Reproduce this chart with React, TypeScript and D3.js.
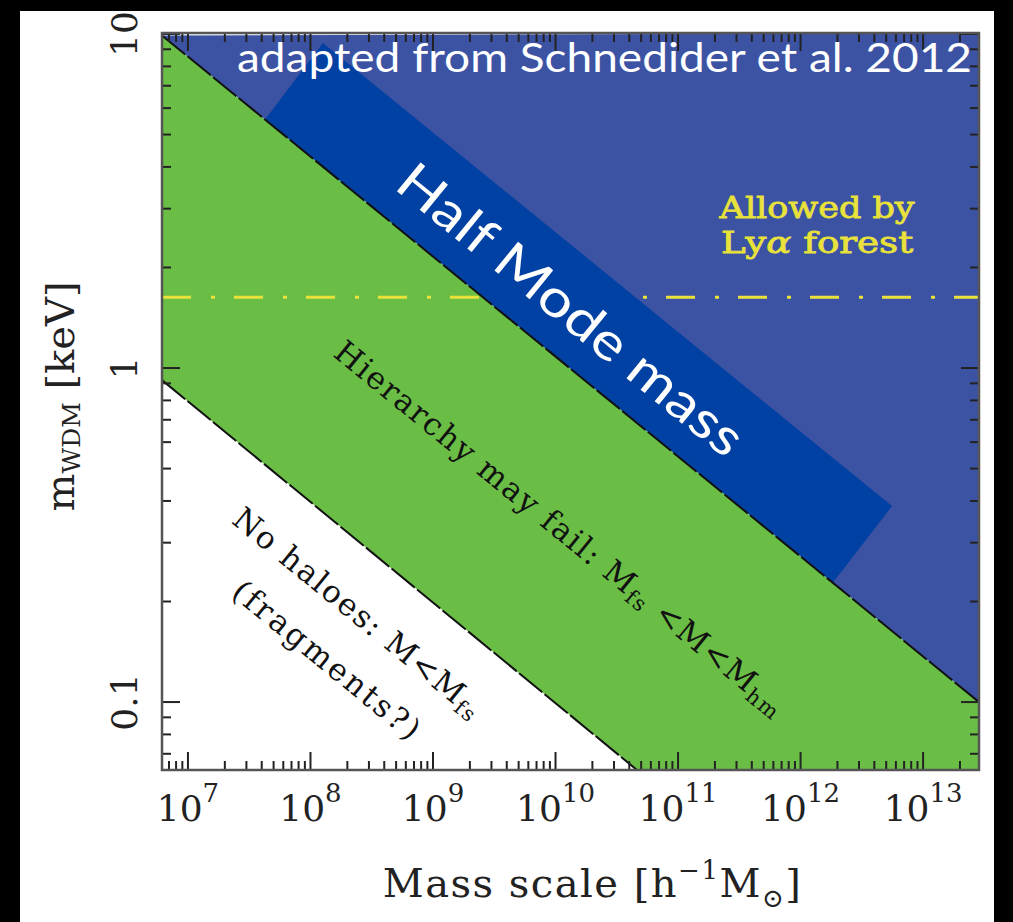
import React from 'react';
import * as d3 from 'd3';

// ---------- data ----------
const massDomain = [6.14e6, 2.86e13];          // h^-1 Msun
const mwdmDomain = [0.0626, 10.07];             // keV
const xMajorTicks = [1e7, 1e8, 1e9, 1e10, 1e11, 1e12, 1e13];
const xTickExponents = ['7', '8', '9', '10', '11', '12', '13'];
const yMajorTicks = [0.1, 1, 10];
const yTickLabels = ['0.1', '1', '10'];
// boundary lines (two points each, on the plot edges)
const freeStreamingLine = [
  { M: 6.14e6, m: 0.92 },
  { M: 4.62e10, m: 0.0626 },
];
const halfModeLine = [
  { M: 6.14e6, m: 9.9 },
  { M: 2.86e13, m: 0.1 },
];
// "Half Mode mass" highlight band corners
const halfModeBand = [
  { M: 4.26e7, m: 5.55 },
  { M: 1.265e8, m: 9.4 },
  { M: 5.58e12, m: 0.386 },
  { M: 1.84e12, m: 0.228 },
];
const lyaForestLimit = 1.63; // keV

// annotation anchors (data coordinates)
const halfModeLabelPos = { M: 1.365e10, m: 1.512 };
const hierarchyLabelPos = { M: 1.71e8, m: 1.156 };
const noHaloLabelPos = { M: 2.535e7, m: 0.366 };
const fragmentsLabelPos = { M: 2.51e7, m: 0.222 };
const lyaLabelPos = { M: 1.365e12, m1: 2.81, m2: 2.21 };

const W = 1013;
const H = 922;
const plot = { left: 162, right: 979, top: 33, bottom: 770 };

const BLUE = '#3c53a4';
const BAND = '#0041a3';
const GREEN = '#6abd45';
const YELLOW = '#e9e23a';
const SERIF = "'DejaVu Serif', serif";

export default function App() {
  const x = d3.scaleLog().domain(massDomain).range([plot.left, plot.right]);
  const y = d3.scaleLog().domain(mwdmDomain).range([plot.bottom, plot.top]);

  const pt = (d: { M: number; m: number }) => [x(d.M), y(d.m)] as [number, number];
  const poly = (pts: [number, number][]) => 'M' + pts.map((p) => p.join(',')).join('L') + 'Z';

  const [, mx] = massDomain;
  const [ymn, ymx] = mwdmDomain;

  const bluePoly = poly([pt(halfModeLine[0]), pt(halfModeLine[1]), pt({ M: mx, m: ymx })]);
  const greenPoly = poly([
    pt(halfModeLine[0]),
    pt(halfModeLine[1]),
    pt({ M: mx, m: ymn }),
    pt(freeStreamingLine[1]),
    pt(freeStreamingLine[0]),
  ]);
  const bandPoly = poly(halfModeBand.map(pt));

  const a0 = pt(halfModeLine[0]);
  const a1 = pt(halfModeLine[1]);
  const angle = (Math.atan2(a1[1] - a0[1], a1[0] - a0[0]) * 180) / Math.PI;

  const xMinor = x.ticks().filter((t) => !xMajorTicks.some((v) => Math.abs(v - t) / v < 1e-6));
  const yMinor = y.ticks().filter((t) => !yMajorTicks.some((v) => Math.abs(v - t) / v < 1e-6));

  const tickColor = '#222';
  const majorLen = 18;
  const minorLen = 9;

  const hmP = pt(halfModeLabelPos);
  const hiP = pt(hierarchyLabelPos);
  const nhP = pt(noHaloLabelPos);
  const frP = pt(fragmentsLabelPos);

  return (
    <svg
      width={W}
      height={H}
      style={{ position: 'absolute', left: 0, top: 0, display: 'block' }}
      xmlns="http://www.w3.org/2000/svg"
    >
      <rect x={0} y={0} width={W} height={H} fill="#000" />
      <rect x={20} y={11} width={974} height={H - 11} fill="#fff" />

      {/* regions */}
      <path d={greenPoly} fill={GREEN} />
      <path d={bluePoly} fill={BLUE} />

      {/* Lyman-alpha limit */}
      <line
        x1={plot.left}
        x2={plot.right}
        y1={y(lyaForestLimit)}
        y2={y(lyaForestLimit)}
        stroke={YELLOW}
        strokeWidth={3}
        strokeDasharray="29,20,4,19"
      />

      <path d={bandPoly} fill={BAND} />

      {/* boundary lines */}
      <line
        x1={pt(freeStreamingLine[0])[0]}
        y1={pt(freeStreamingLine[0])[1]}
        x2={pt(freeStreamingLine[1])[0]}
        y2={pt(freeStreamingLine[1])[1]}
        stroke="#111"
        strokeWidth={2}
        strokeDasharray="30,3"
      />
      <line
        x1={a0[0]}
        y1={a0[1]}
        x2={a1[0]}
        y2={a1[1]}
        stroke="#111"
        strokeWidth={2}
        strokeDasharray="30,3"
      />

      {/* ticks */}
      <g stroke={tickColor} strokeWidth={2}>
        {xMajorTicks.map((t) => (
          <g key={'xm' + t}>
            <line x1={x(t)} x2={x(t)} y1={plot.bottom} y2={plot.bottom - majorLen} />
            <line x1={x(t)} x2={x(t)} y1={plot.top} y2={plot.top + majorLen} />
          </g>
        ))}
        {xMinor.map((t) => (
          <g key={'xn' + t}>
            <line x1={x(t)} x2={x(t)} y1={plot.bottom} y2={plot.bottom - minorLen} />
            <line x1={x(t)} x2={x(t)} y1={plot.top} y2={plot.top + minorLen} />
          </g>
        ))}
        {yMajorTicks.map((t) => (
          <g key={'ym' + t}>
            <line x1={plot.left} x2={plot.left + majorLen} y1={y(t)} y2={y(t)} />
            <line x1={plot.right} x2={plot.right - majorLen} y1={y(t)} y2={y(t)} />
          </g>
        ))}
        {yMinor.map((t) => (
          <g key={'yn' + t}>
            <line x1={plot.left} x2={plot.left + minorLen} y1={y(t)} y2={y(t)} />
            <line x1={plot.right} x2={plot.right - minorLen} y1={y(t)} y2={y(t)} />
          </g>
        ))}
      </g>

      {/* frame */}
      <rect
        x={plot.left}
        y={plot.top}
        width={plot.right - plot.left}
        height={plot.bottom - plot.top}
        fill="none"
        stroke="#555"
        strokeWidth={2.5}
      />

      {/* tick labels */}
      <g fontFamily={SERIF} fill="#222">
        {xMajorTicks.map((t, i) => (
          <text key={'xl' + t} x={x(t)} y={821} textAnchor="middle" fontSize={36}>
            10
            <tspan fontSize={26} dy={-19}>
              {xTickExponents[i]}
            </tspan>
          </text>
        ))}
        {yMajorTicks.map((t, i) => (
          <text
            key={'yl' + t}
            transform={`translate(137,${y(t)}) rotate(-90)`}
            textAnchor="middle"
            fontSize={36}
          >
            {yTickLabels[i]}
          </text>
        ))}
      </g>

      {/* axis titles */}
      <text
        transform={`translate(74,${(plot.top + plot.bottom) / 2 - 5}) rotate(-90)`}
        textAnchor="middle"
        fontFamily={SERIF}
        fontSize={40}
        fill="#222"
      >
        m
        <tspan fontSize={25} dy={6}>
          WDM
        </tspan>
        <tspan dy={-6}>{'\u00a0[keV]'}</tspan>
      </text>
      <text
        x={(plot.left + plot.right) / 2 + 22}
        y={897}
        textAnchor="middle"
        fontFamily={SERIF}
        fontSize={40}
        letterSpacing={1.5}
        fill="#222"
      >
        Mass scale [h
        <tspan fontSize={26} dy={-18}>
          −1
        </tspan>
        <tspan dy={18}>M</tspan>
        <tspan fontSize={26} dy={10}>
          ⊙
        </tspan>
        <tspan dy={-10}>]</tspan>
      </text>

      {/* annotations */}
      <g
        fontFamily={SERIF}
        fontSize={29}
        fill={YELLOW}
        stroke={YELLOW}
        strokeWidth={0.8}
        textAnchor="middle"
      >
        <text
          transform={`translate(${x(lyaLabelPos.M)},${y(lyaLabelPos.m1)})`}
          textLength={195}
          lengthAdjust="spacingAndGlyphs"
        >
          Allowed by
        </text>
        <text
          transform={`translate(${x(lyaLabelPos.M)},${y(lyaLabelPos.m2)})`}
          textLength={192}
          lengthAdjust="spacingAndGlyphs"
        >
          Ly<tspan fontStyle="italic">α</tspan> forest
        </text>
      </g>

      <text
        transform={`translate(${hiP[0]},${hiP[1]}) rotate(${angle})`}
        dominantBaseline="central"
        fontFamily={SERIF}
        fontSize={31}
        fill="#111"
        textLength={571}
        lengthAdjust="spacing"
      >
        Hierarchy may fail: M
        <tspan fontSize={21} dy={9}>
          fs
        </tspan>
        <tspan dy={-9}> &lt;M&lt;M</tspan>
        <tspan fontSize={21} dy={9}>
          hm
        </tspan>
      </text>

      <text
        transform={`translate(${nhP[0]},${nhP[1]}) rotate(${angle})`}
        dominantBaseline="central"
        fontFamily={SERIF}
        fontSize={31}
        fill="#111"
        textLength={311}
        lengthAdjust="spacing"
      >
        No haloes: M&lt;M
        <tspan fontSize={21} dy={9}>
          fs
        </tspan>
      </text>
      <text
        transform={`translate(${frP[0]},${frP[1]}) rotate(${angle})`}
        dominantBaseline="central"
        fontFamily={SERIF}
        fontSize={31}
        fill="#111"
        textLength={232}
        lengthAdjust="spacing"
      >
        (fragments?)
      </text>

      <text
        transform={`translate(${hmP[0]},${hmP[1]}) rotate(${angle})`}
        textAnchor="middle"
        dominantBaseline="central"
        fontFamily="Lato, 'Open Sans', sans-serif"
        fontSize={52}
        fill="#fff"
        textLength={430}
        lengthAdjust="spacingAndGlyphs"
      >
        Half Mode mass
      </text>

      <text
        x={237}
        y={72}
        fontFamily="Lato, 'Open Sans', sans-serif"
        fontSize={40}
        fill="#fff"
        textLength={735}
        lengthAdjust="spacingAndGlyphs"
      >
        adapted from Schnedider et al. 2012
      </text>
    </svg>
  );
}
